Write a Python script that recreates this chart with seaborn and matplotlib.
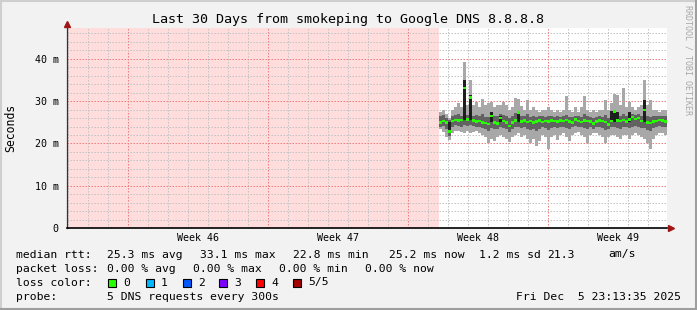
import numpy as np
import pandas as pd
import matplotlib
matplotlib.use("Agg")
import matplotlib.pyplot as plt
import matplotlib.dates as mdates
from matplotlib.ticker import MultipleLocator
from matplotlib.patches import Rectangle
import seaborn as sns

# ---------------- data ----------------
title = "Last 30 Days from smokeping to Google DNS 8.8.8.8"
range_start = "2025-11-05 23:13:35"
range_end = "2025-12-05 23:13:35"
first_sample = "2025-11-24 15:25"
sample_minutes = 216

median_ms = [25.0, 25.3, 25.0, 22.8, 25.3, 25.5, 25.4, 25.5, 33.1, 25.6, 30.8, 25.4, 25.2, 25.3, 25.0, 24.8, 24.6, 26.5, 25.0, 24.7,
             26.0, 25.3, 24.9, 24.1, 25.0, 25.4, 27.3, 25.2, 25.4, 25.1, 25.3, 25.0, 25.2, 25.4, 25.1, 25.3, 25.2, 25.4, 25.3,
             25.2, 25.4, 25.3, 25.5, 25.2, 25.0, 25.6, 25.3, 25.1, 25.4, 25.3, 25.2, 24.7, 25.2, 25.4, 25.3, 25.1, 24.5, 25.3,
             27.5, 25.4, 25.3, 25.5, 25.2, 25.6, 26.3, 25.8, 26.0, 25.3, 27.9, 25.0, 24.8, 25.2, 25.3, 25.5, 25.4, 25.2]
light_hi = [27.5, 28.0, 27.0, 26.0, 28.0, 28.5, 29.5, 28.5, 39.2, 29.0, 35.0, 29.0, 29.8, 28.5, 30.5, 29.0, 29.5, 29.8, 28.5, 29.0,
            29.0, 29.9, 29.0, 28.0, 28.5, 30.7, 30.5, 28.8, 28.0, 30.3, 28.0, 28.5, 28.0, 27.5, 28.0, 27.8, 28.5, 28.0, 27.5,
            28.0, 27.5, 28.0, 31.1, 28.0, 27.5, 28.5, 27.5, 28.5, 31.3, 28.0, 27.5, 28.0, 27.5, 28.0, 27.8, 30.3, 28.0, 29.5,
            31.8, 31.5, 29.0, 33.2, 28.5, 29.9, 28.5, 28.0, 28.5, 29.0, 35.1, 29.0, 30.3, 28.0, 28.0, 27.5, 28.0, 27.8]
light_lo = [23.5, 22.8, 21.5, 20.8, 22.5, 23.0, 23.0, 22.8, 22.5, 23.0, 22.5, 22.6, 23.0, 22.5, 22.0, 21.5, 20.0, 21.0, 20.5, 21.5,
            22.0, 21.5, 21.0, 20.4, 21.5, 22.0, 22.5, 21.5, 22.0, 21.0, 20.0, 21.0, 19.5, 20.5, 22.0, 21.5, 18.8, 21.5, 22.0,
            20.8, 22.0, 22.5, 21.5, 20.6, 22.0, 22.5, 22.8, 22.0, 21.5, 20.2, 22.0, 22.5, 22.5, 22.0, 21.5, 20.0, 21.5, 22.0,
            22.0, 21.5, 21.0, 22.0, 22.0, 21.0, 22.0, 22.5, 22.0, 21.5, 21.0, 20.0, 18.6, 21.0, 22.0, 22.5, 22.5, 22.0]
dark_hi = [26.5, 26.8, 26.0, 25.5, 26.5, 26.8, 27.0, 26.6, 27.5, 26.8, 27.0, 26.5, 26.8, 26.4, 26.9, 26.3, 26.2, 27.0, 26.4, 26.6,
           27.0, 26.8, 26.5, 26.0, 26.4, 27.2, 27.5, 26.6, 26.5, 26.9, 26.3, 26.5, 26.2, 26.4, 26.6, 26.3, 26.5, 26.4, 26.2,
           26.4, 26.2, 26.5, 26.8, 26.3, 26.2, 26.6, 26.4, 26.3, 26.9, 26.5, 26.3, 26.0, 26.2, 26.4, 26.3, 26.7, 26.0, 26.8,
           27.5, 27.2, 26.6, 27.0, 26.4, 27.2, 27.0, 26.8, 26.9, 26.6, 27.8, 26.5, 26.3, 26.4, 26.5, 26.6, 26.5, 26.4]
dark_lo = [24.0, 24.2, 23.5, 21.8, 24.0, 24.3, 24.2, 24.0, 24.3, 24.2, 24.4, 24.1, 23.9, 24.0, 23.6, 23.4, 23.0, 23.6, 23.3, 23.5,
           23.8, 23.6, 23.4, 22.8, 23.5, 23.8, 24.0, 23.6, 23.8, 23.4, 23.2, 23.5, 23.0, 23.4, 23.8, 23.6, 23.2, 23.7, 23.9,
           23.6, 23.9, 24.0, 23.7, 23.4, 23.9, 24.1, 24.0, 23.8, 23.6, 23.3, 23.9, 23.5, 24.0, 23.8, 23.6, 23.2, 23.4, 23.9,
           24.0, 23.7, 23.5, 23.9, 24.0, 23.6, 24.0, 24.2, 24.0, 23.7, 23.6, 23.2, 23.0, 23.6, 23.9, 24.1, 24.0, 23.9]
spike_idx = [3, 8, 10, 17, 20, 26, 57, 58, 59, 63, 68]
spike_lo = [22.8, 25.5, 25.5, 25.0, 25.0, 25.0, 25.0, 25.0, 25.0, 25.0, 25.0]
spike_hi = [25.0, 35.0, 31.5, 27.5, 26.5, 27.5, 27.7, 27.9, 27.5, 27.5, 30.3]

ytick_vals = [0, 10, 20, 30, 40]
ytick_labels = ["0", "10 m", "20 m", "30 m", "40 m"]
week_labels = ["Week 46", "Week 47", "Week 48", "Week 49"]

legend_rows = [
    [("median rtt:", 16), ("25.3 ms avg", 107), ("33.1 ms max", 200), ("22.8 ms min", 293),
     ("25.2 ms now", 389), ("1.2 ms sd", 479), ("21.3", 547), ("am/s", 608)],
    [("packet loss:", 16), ("0.00 % avg", 107), ("0.00 % max", 193), ("0.00 % min", 279), ("0.00 % now", 365)],
    [("loss color:", 16)],
    [("probe:", 16), ("5 DNS requests every 300s", 107)],
]
loss_labels = ["0", "1", "2", "3", "4", "5/5"]
loss_colors = ["#26ff00", "#00b8ff", "#0059ff", "#7e00ff", "#ff0000", "#a10000"]
loss_box_x = [108, 146, 183, 219, 256, 293]
timestamp = "Fri Dec  5 23:13:35 2025"

# ---------------- figure ----------------
sns.set_theme(style="white")
plt.rcParams["font.family"] = ["DejaVu Sans Mono"]

W, H = 697, 310
fig = plt.figure(figsize=(W / 100, H / 100), dpi=100, facecolor="#f2f2f2")
ax = fig.add_axes([67 / W, 82 / H, 600 / W, 200 / H])
ax.set_facecolor("white")

t0 = mdates.date2num(pd.Timestamp(range_start))
t1 = mdates.date2num(pd.Timestamp(range_end))
times = pd.date_range(first_sample, periods=len(median_ms), freq=f"{sample_minutes}min")
x = mdates.date2num(times)
step = sample_minutes / 1440.0

lh, ll = np.array(light_hi), np.array(light_lo)
dh, dl = np.array(dark_hi), np.array(dark_lo)

# unknown-data region
ax.axvspan(t0, x[0] - step / 2, color="#ffdddd", lw=0, zorder=0.2)

ax.bar(x, lh - ll, bottom=ll, width=step, color="#a8a8a8", linewidth=0, zorder=1)
ax.bar(x, dh - dl, bottom=dl, width=step, color="#626262", linewidth=0, zorder=1.1)
sx = x[spike_idx]
ax.bar(sx, np.array(spike_hi) - np.array(spike_lo), bottom=spike_lo, width=step,
       color="#1e1e1e", linewidth=0, zorder=1.2)

df = pd.DataFrame({"time": x, "median": median_ms})
ax.bar(df["time"], 0.6, bottom=df["median"] - 0.3, width=step, color="#26ff00", linewidth=0, zorder=3)

ax.set_xlim(t0, t1)
ax.set_ylim(0, 47.3)
ax.xaxis_date()
ax.xaxis.set_major_locator(mdates.WeekdayLocator(byweekday=mdates.SU))
ax.xaxis.set_minor_locator(mdates.DayLocator())
ax.set_yticks(ytick_vals, ytick_labels)
ax.yaxis.set_minor_locator(MultipleLocator(2))
ax.set_axisbelow(True)
ax.grid(which="minor", color="#c4c4c4", linestyle=(0, (1.5, 1.5)), linewidth=0.72)
ax.grid(which="major", color="#f08080", linestyle=(0, (1.5, 1.5)), linewidth=0.72)
ax.tick_params(axis="x", which="both", labelbottom=False, direction="out", length=2, width=0.72, color="#777777")
ax.tick_params(axis="y", which="major", direction="out", length=3, width=0.72, color="#555555",
               labelsize=7.2, pad=3, labelcolor="black")
ax.tick_params(axis="y", which="minor", direction="out", length=2, width=0.72, color="#999999")
ax.set_xlabel("")
ax.set_ylabel("")
for s in ["top", "right"]:
    ax.spines[s].set_visible(False)
ax.spines["left"].set_color("#333333")
ax.spines["left"].set_linewidth(0.9)
ax.spines["bottom"].set_color("black")
ax.spines["bottom"].set_linewidth(1.2)
for sp in ax.spines.values():
    sp.set_zorder(5)

# arrows
ax.plot([0], [1.02], transform=ax.transAxes, marker="^", ms=4.5, color="#a01515", clip_on=False, zorder=6)
ax.plot([1.007], [0], transform=ax.transAxes, marker=">", ms=4.5, color="#a01515", clip_on=False, zorder=6)

# week labels
sundays = pd.date_range(pd.Timestamp(range_start).normalize(), pd.Timestamp(range_end), freq="W-SUN")
for lab, sd in zip(week_labels, sundays):
    ax.text(mdates.date2num(sd) + 3.5, -0.048, lab, transform=ax.get_xaxis_transform(),
            ha="center", va="center", fontsize=7.2, color="black")

# texts
def fx(px):
    return px / W

def fy(py):
    return 1 - py / H

fig.text(fx(348), fy(19), title, ha="center", va="center", fontsize=9.6, color="black")
fig.text(fx(11), fy(128), "Seconds", rotation=90, ha="center", va="center", fontsize=8.3, color="black")
fig.text(fx(688), fy(60), "RRDTOOL / TOBI OETIKER", rotation=270, ha="center", va="center",
         fontsize=6.0, color="#a8a8a8")

LEG_FS = 8.2
row_y = [254.5, 268.5, 282.5, 296.5]
for row, yy in zip(legend_rows, row_y):
    for txt, px in row:
        fig.text(fx(px), fy(yy), txt, ha="left", va="center", fontsize=LEG_FS, color="black")

for lab, col, bx in zip(loss_labels, loss_colors, loss_box_x):
    fig.patches.append(Rectangle((fx(bx), fy(286.5)), 8 / W, 8 / H, transform=fig.transFigure,
                                 facecolor=col, edgecolor="black", linewidth=0.8))
    fig.text(fx(bx + 15), fy(282.5), lab, ha="left", va="center", fontsize=LEG_FS, color="black")

fig.text(fx(681), fy(296.5), timestamp, ha="right", va="center", fontsize=LEG_FS, color="black")

# 3D frame
def frame_line(xs, ys, col):
    fig.add_artist(plt.Line2D([fx(v) for v in xs], [fy(v) for v in ys], transform=fig.transFigure,
                              color=col, linewidth=1.5, solid_capstyle="butt"))

frame_line([0, W], [0.7, 0.7], "#cfcfcf")
frame_line([0.7, 0.7], [0, H], "#cfcfcf")
frame_line([0, W], [H - 1, H - 1], "#9e9e9e")
frame_line([W - 1, W - 1], [0, H], "#9e9e9e")

fig.savefig("out.png", dpi=100, facecolor=fig.get_facecolor())
